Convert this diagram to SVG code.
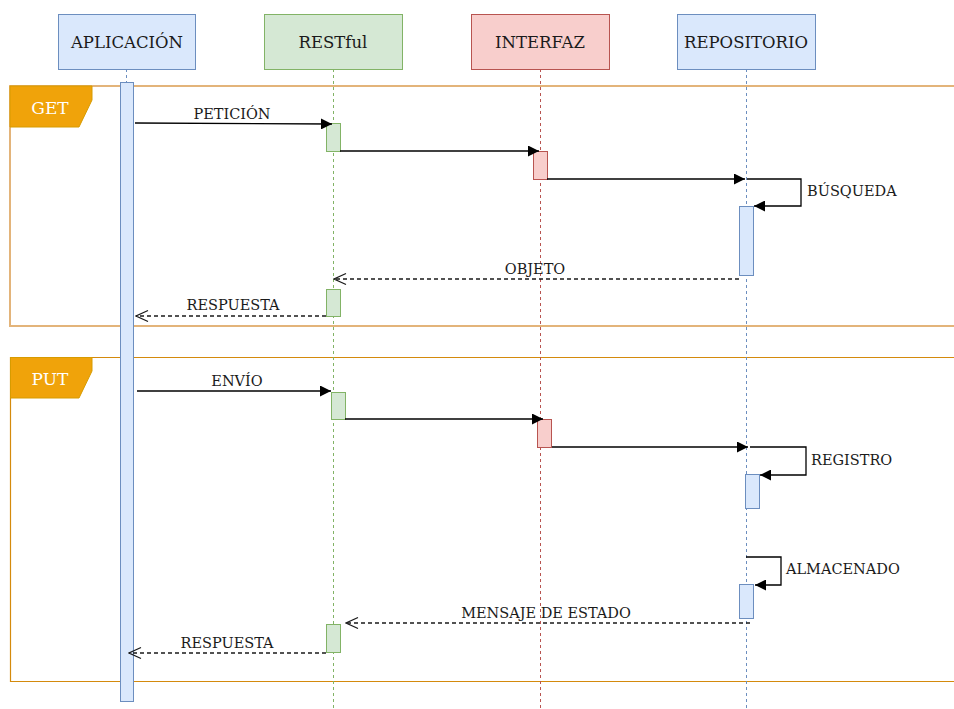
<svg xmlns="http://www.w3.org/2000/svg" width="954" height="709" viewBox="0 0 954 709">
  <style>
    text { font-family: "DejaVu Serif", "Liberation Serif", serif; fill: #1a1a1a; }
    .head { font-size: 16.5px; text-anchor: middle; }
    .msg { font-size: 14.5px; }
    .mid { text-anchor: middle; }
    .tag { font-size: 17px; fill: #ffffff; text-anchor: middle; }
    .blue { fill: #dae8fc; stroke: #6c8ebf; stroke-width: 1; }
    .green { fill: #d5e8d4; stroke: #82b366; stroke-width: 1; }
    .red { fill: #f8cecc; stroke: #b85450; stroke-width: 1; }
    .life { fill: none; stroke-width: 1; stroke-dasharray: 3 3; }
    .call { fill: none; stroke: #000; stroke-width: 1.3; }
    .ret { fill: none; stroke: #1a1a1a; stroke-width: 1.4; stroke-dasharray: 4 3; }
    .frame { fill: none; stroke: #d48a0c; stroke-width: 1.2; }
  </style>
  <defs>
    <marker id="solid" viewBox="0 0 10 10" refX="10" refY="5" markerWidth="11" markerHeight="11" markerUnits="userSpaceOnUse" orient="auto">
      <path d="M0,0 L10,5 L0,10 Z" fill="#000"/>
    </marker>
    <marker id="open" viewBox="0 0 14 14" refX="13" refY="7" markerWidth="14" markerHeight="14" markerUnits="userSpaceOnUse" orient="auto">
      <path d="M1,1.5 L13,7 L1,12.5" fill="none" stroke="#1a1a1a" stroke-width="1.3"/>
    </marker>
  </defs>

  <!-- combined fragments -->
  <g id="frame-get">
    <path d="M954,86 H10 V326 H954" fill="none" stroke="#e3b47a" stroke-width="2"/>
    <path d="M10,86 H92 V100 L79,127 H10 Z" fill="#f0a30a" stroke="#d79b00" stroke-width="1"/>
    <text class="tag" x="50" y="114">GET</text>
  </g>
  <g id="frame-put">
    <path d="M954,357.5 H10.5 V681.5 H954" class="frame"/>
    <path d="M10.5,357.5 H92 V371 L79,398 H10.5 Z" fill="#f0a30a" stroke="#d79b00" stroke-width="1"/>
    <text class="tag" x="50" y="385">PUT</text>
  </g>

  <!-- lifelines -->
  <g id="lifelines">
    <line class="life" x1="126.5" y1="69" x2="126.5" y2="82" stroke="#6c8ebf"/>
    <line class="life" x1="333.5" y1="69" x2="333.5" y2="709" stroke="#82b366"/>
    <line class="life" x1="540.5" y1="69" x2="540.5" y2="709" stroke="#b85450"/>
    <line class="life" x1="746.5" y1="69" x2="746.5" y2="709" stroke="#6c8ebf"/>
  </g>

  <!-- participants -->
  <g id="aplicacion">
    <rect class="blue" x="58.5" y="14.5" width="137" height="55"/>
    <text class="head" x="127" y="48">APLICACIÓN</text>
    <rect class="blue" x="120.5" y="82.5" width="13" height="619"/>
  </g>
  <g id="restful">
    <rect class="green" x="264.5" y="14.5" width="138" height="55"/>
    <text class="head" x="333" y="48">RESTful</text>
    <rect class="green" x="326.5" y="123.5" width="14" height="28"/>
    <rect class="green" x="326.5" y="289.5" width="14" height="27"/>
    <rect class="green" x="331.5" y="392.5" width="14" height="27"/>
    <rect class="green" x="326.5" y="624.5" width="14" height="28"/>
  </g>
  <g id="interfaz">
    <rect class="red" x="471.5" y="14.5" width="138" height="55"/>
    <text class="head" x="540" y="48">INTERFAZ</text>
    <rect class="red" x="533.5" y="151.5" width="14" height="28"/>
    <rect class="red" x="537.5" y="419.5" width="14" height="28"/>
  </g>
  <g id="repositorio">
    <rect class="blue" x="677.5" y="14.5" width="138" height="55"/>
    <text class="head" x="746" y="48">REPOSITORIO</text>
    <rect class="blue" x="739.5" y="206.5" width="14" height="69"/>
    <rect class="blue" x="745.5" y="474.5" width="14" height="34"/>
    <rect class="blue" x="739.5" y="584.5" width="14" height="34"/>
  </g>

  <!-- messages -->
  <g id="connectors">
    <!-- GET -->
    <path class="call" d="M135,123 L332,124" marker-end="url(#solid)"/>
    <path class="call" d="M340,151 H539" marker-end="url(#solid)"/>
    <path class="call" d="M547,179 H745" marker-end="url(#solid)"/>
    <path class="call" d="M747,179 H801 V206 H754" marker-end="url(#solid)"/>
    <path class="ret" d="M739,279 H334" marker-end="url(#open)"/>
    <path class="ret" d="M326,316 H136" marker-end="url(#open)"/>
    <!-- PUT -->
    <path class="call" d="M137,391 H331" marker-end="url(#solid)"/>
    <path class="call" d="M345,419 H543" marker-end="url(#solid)"/>
    <path class="call" d="M552,447 H748" marker-end="url(#solid)"/>
    <path class="call" d="M750,447 H806 V475 H760" marker-end="url(#solid)"/>
    <path class="call" d="M746,557 H781 V585 H755" marker-end="url(#solid)"/>
    <path class="ret" d="M750,623 H346" marker-end="url(#open)"/>
    <path class="ret" d="M326,653 H129" marker-end="url(#open)"/>
  </g>

  <!-- message labels -->
  <g id="labels">
    <text class="msg mid" x="232" y="119">PETICIÓN</text>
    <text class="msg" x="807" y="196">BÚSQUEDA</text>
    <text class="msg mid" x="535" y="274">OBJETO</text>
    <text class="msg mid" x="233" y="310">RESPUESTA</text>
    <text class="msg mid" x="237" y="386">ENVÍO</text>
    <text class="msg" x="811" y="465">REGISTRO</text>
    <text class="msg" x="786" y="574">ALMACENADO</text>
    <text class="msg mid" x="546" y="618">MENSAJE DE ESTADO</text>
    <text class="msg mid" x="227" y="648">RESPUESTA</text>
  </g>
</svg>
